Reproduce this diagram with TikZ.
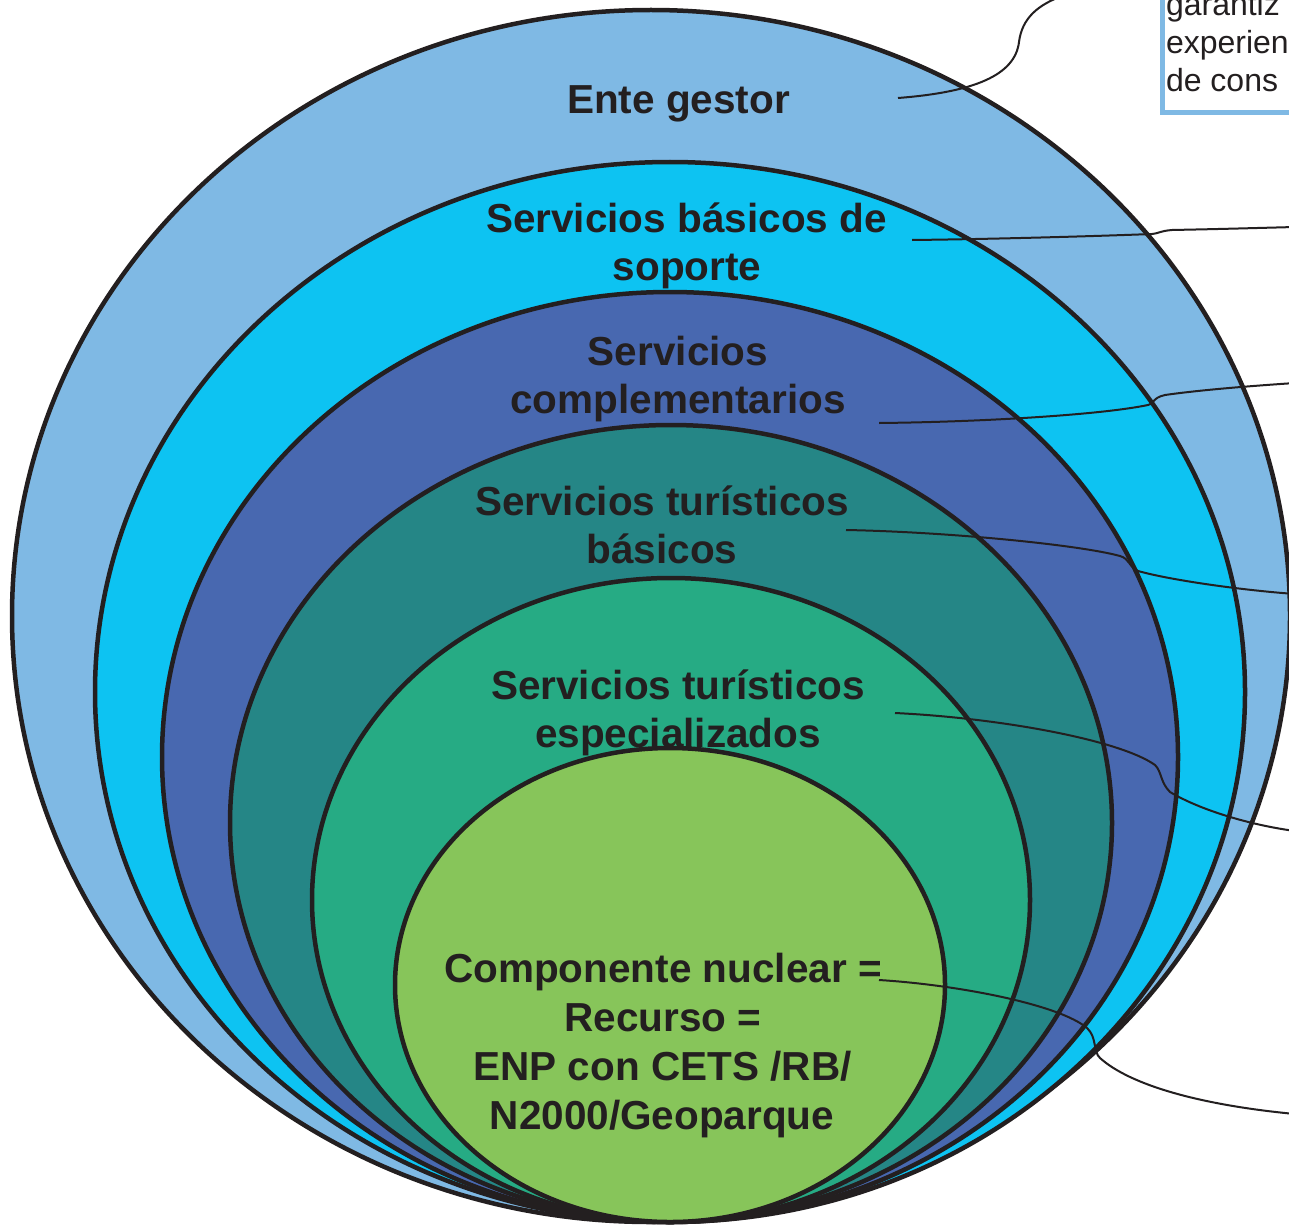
\documentclass[tikz,border=0pt]{standalone}
\usepackage{fontspec}
\setmainfont{Liberation Sans}
\usetikzlibrary{shapes.geometric}
\definecolor{ink}{HTML}{231F20}
\definecolor{cA}{HTML}{7FB9E4}
\definecolor{cB}{HTML}{0DC3F2}
\definecolor{cC}{HTML}{4868B0}
\definecolor{cD}{HTML}{258686}
\definecolor{cE}{HTML}{26AB84}
\definecolor{cF}{HTML}{87C55A}
\tikzset{
  layer/.style={ellipse, draw=ink, line width=4.5pt, inner sep=0pt, outer sep=0pt},
  lbl/.style={anchor=base, text=ink, inner sep=0pt, font=\fontsize{40.5}{48.5}\selectfont\bfseries},
  conn/.style={draw=ink, line width=2pt},
  notebox/.style={draw=cA, line width=5pt, text=ink, align=left, inner xsep=4pt, inner ysep=21.5pt,
    outer sep=0pt, font=\fontsize{32}{38}\selectfont}
}
\begin{document}
\begin{tikzpicture}[x=1pt,y=-1pt]
\useasboundingbox (0,0) rectangle (1289,1225);
\clip (0,0) rectangle (1289,1225);
\fill[white] (0,0) rectangle (1289,1225);
% nested layers
\node[layer, fill=cA, minimum width=1278pt, minimum height=1212pt] (L1) at (651,616) {};
\node[layer, fill=cB, minimum width=1150pt, minimum height=1060pt] (L2) at (670,692) {};
\node[layer, fill=cC, minimum width=1016pt, minimum height=930pt] (L3) at (670,757) {};
\node[layer, fill=cD, minimum width=882pt, minimum height=796pt] (L4) at (671,823) {};
\node[layer, fill=cE, minimum width=718pt, minimum height=644pt] (L5) at (671,900) {};
\node[layer, fill=cF, minimum width=550pt, minimum height=474pt] (L6) at (670,985) {};
% labels
\node[lbl] (t1) at (678.5,114) {Ente gestor};
\node[lbl] (t2a) at (686.5,232) {Servicios básicos de};
\node[lbl] (t2b) at (687,280.5) {soporte};
\node[lbl] (t3a) at (678,365) {Servicios};
\node[lbl] (t3b) at (678,413.5) {complementarios};
\node[lbl] (t4a) at (662,515) {Servicios turísticos};
\node[lbl] (t4b) at (662,563.5) {básicos};
\node[lbl] (t5a) at (678,699) {Servicios turísticos};
\node[lbl] (t5b) at (678,747.5) {especializados};
\node[lbl] (t6a) at (663,982) {Componente nuclear =};
\node[lbl] (t6b) at (663,1031) {Recurso =};
\node[lbl] (t6c) at (662.5,1080) {ENP con CETS /RB/};
\node[lbl] (t6d) at (662,1129) {N2000/Geoparque};
% note box (cut by the picture edge)
\node[notebox, anchor=south west] (box) at (1162,113) {garantiz\\experien\\de cons};
% connector ends
\coordinate (s1) at (898,98);   \coordinate (e1) at (1062,-4);
\coordinate (s2) at (912,240);  \coordinate (e2) at (1295,227);
\coordinate (s3) at (879,423);  \coordinate (e3) at (1295,383);
\coordinate (s4) at (846,530);  \coordinate (e4) at (1295,594);
\coordinate (s5) at (895,713);  \coordinate (e5) at (1295,831);
\coordinate (s6) at (879,980);  \coordinate (e6) at (1295,1114);
% connectors
\draw[conn] (s1) .. controls (975,92) and (1015,75) .. (1019,42) .. controls (1022,18) and (1038,5) .. (e1);
\draw[conn] (s2) .. controls (1000,239) and (1100,236) .. (1152,234) .. controls (1160,233) and (1160,231) .. (1172,230) .. controls (1220,229) .. (e2);
\draw[conn] (s3) .. controls (980,422) and (1100,415) .. (1148,405) .. controls (1155,403) and (1152,398) .. (1165,395) .. controls (1200,390) and (1250,386) .. (e3);
\draw[conn] (s4) .. controls (950,532) and (1080,545) .. (1120,556) .. controls (1130,559) and (1128,566) .. (1138,571) .. controls (1170,580) and (1240,590) .. (e4);
\draw[conn] (s5) .. controls (1000,718) and (1120,740) .. (1155,765) .. controls (1162,772) and (1160,782) .. (1170,792) .. controls (1200,810) and (1250,825) .. (e5);
\draw[conn] (s6) .. controls (960,985) and (1060,1005) .. (1087,1028) .. controls (1097,1037) and (1093,1052) .. (1100,1058) .. controls (1130,1085) and (1200,1105) .. (e6);
\end{tikzpicture}
\end{document}
